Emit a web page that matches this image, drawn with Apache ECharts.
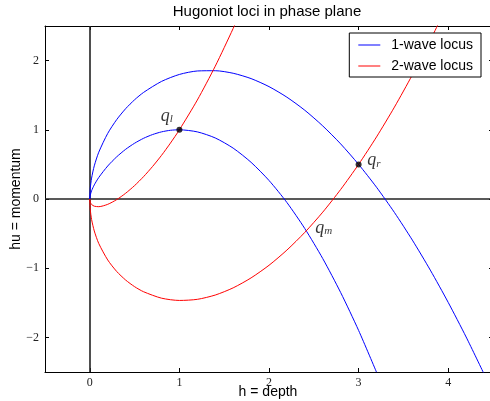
<!DOCTYPE html>
<html>
<head>
<meta charset="utf-8">
<script src="https://cdn.jsdelivr.net/npm/echarts@6/dist/echarts.min.js"></script>
<style>
  html, body { margin: 0; padding: 0; background: #fff; }
  #chart { width: 490px; height: 401px; }
</style>
</head>
<body>
<div id="chart"></div>
<script>
// depth samples (h) and momentum (hu) read along each locus
const hLeft = [0, 0.005, 0.02, 0.05, 0.1, 0.2, 0.3, 0.4, 0.5, 0.6, 0.7, 0.8, 0.9, 1.0, 1.2, 1.4, 1.6, 1.8, 2.0, 2.2, 2.4, 2.6, 2.8, 3.0, 3.2];
const wave1Left = [0, 0.055, 0.119, 0.204, 0.311, 0.477, 0.609, 0.718, 0.806, 0.877, 0.931, 0.970, 0.993, 1.0, 0.970, 0.882, 0.735, 0.530, 0.268, -0.051, -0.428, -0.861, -1.352, -1.899, -2.503];
const wave2Left = [0, -0.045, -0.079, -0.104, -0.111, -0.077, -0.009, 0.083, 0.194, 0.323, 0.469, 0.630, 0.808, 1.0, 1.430, 1.919, 2.465, 3.05];

const hRight = [0, 0.005, 0.02, 0.05, 0.1, 0.2, 0.3, 0.4, 0.5, 0.6, 0.8, 1.0, 1.2, 1.4, 1.6, 1.8, 2.0, 2.2, 2.4, 2.6, 2.8, 3.0, 3.2, 3.4, 3.6, 3.8, 4.0, 4.2, 4.4];
const wave1Right = [0, 0.151, 0.302, 0.479, 0.676, 0.948, 1.147, 1.305, 1.434, 1.540, 1.699, 1.800, 1.850, 1.854, 1.817, 1.740, 1.624, 1.471, 1.282, 1.056, 0.796, 0.5, 0.170, -0.195, -0.594, -1.027, -1.494, -1.994, -2.528];
const wave2Right = [0, -0.149, -0.296, -0.462, -0.643, -0.881, -1.047, -1.171, -1.267, -1.340, -1.433, -1.466, -1.450, -1.388, -1.284, -1.140, -0.958, -0.738, -0.482, -0.190, 0.138, 0.5, 0.897, 1.328, 1.794, 2.294, 2.827];

const states = [[1, 1], [3, 0.5]];           // q_l, q_r
const stateNames = ['l', 'm', 'r'];
const stateLabelAt = [[0.86, 1.2], [2.61, -0.42], [3.17, 0.56]];

const xTicks = [0, 1, 2, 3, 4];
const yTicks = [-2, -1, 0, 1, 2];

const BLUE = '#0000ff';
const RED = '#ff0000';

function pairs(xs, ys) {
  const out = [];
  for (let i = 0; i < Math.min(xs.length, ys.length); i++) out.push([xs[i], ys[i]]);
  return out;
}

function curve(name, color, data) {
  return {
    type: 'line', name: name, data: data,
    smooth: 0.25,
    symbol: 'none', showSymbol: false,
    lineStyle: { color: color, width: 1 },
    itemStyle: { color: color },
    clip: true, z: 3, silent: true
  };
}

const tickFont = { fontFamily: 'Liberation Serif', fontSize: 12, color: '#222' };
const minus = v => String(v).replace('-', '\u2212');
const sansText = (size) => size + 'px "Liberation Sans"';

const chart = echarts.init(document.getElementById('chart'), null, { renderer: 'canvas' });

chart.setOption({
  animation: false,
  backgroundColor: '#fff',
  graphic: [{
    type: 'text', x: 267, y: 4,
    style: { text: 'Hugoniot loci in phase plane', font: sansText(15), fill: '#000', textAlign: 'center', textVerticalAlign: 'top' }
  }, {
    type: 'text', x: 268, y: 392,
    style: { text: 'h = depth', font: sansText(14), fill: '#000', textAlign: 'center', textVerticalAlign: 'middle' }
  }, {
    type: 'text', x: 16, y: 199, rotation: Math.PI / 2,
    style: { text: 'hu = momentum', font: sansText(14), fill: '#000', textAlign: 'center', textVerticalAlign: 'middle' }
  }],
  legend: {
    orient: 'vertical', right: 9, top: 33,
    data: ['1-wave locus', '2-wave locus'],
    icon: 'rect',
    itemWidth: 22, itemHeight: 1, itemGap: 5,
    padding: [4, 8, 3, 9],
    borderColor: '#000', borderWidth: 1, borderRadius: 0,
    backgroundColor: '#fff',
    textStyle: { fontFamily: 'Liberation Sans', fontSize: 14, color: '#000', padding: [0, 0, 0, 6], lineHeight: 16 }
  },
  grid: { left: 45, top: 26, width: 448, height: 346, containLabel: false, outerBoundsMode: 'none' },
  xAxis: [{
    type: 'value', min: -0.5, max: 4.5,
    axisLine: { onZero: false, lineStyle: { color: '#000', width: 1 } },
    axisTick: { inside: true, length: 4, customValues: xTicks, lineStyle: { color: '#000' } },
    axisLabel: Object.assign({ customValues: xTicks, margin: 5, formatter: minus }, tickFont),
    splitLine: { show: false }
  }, {
    type: 'value', min: -0.5, max: 4.5, position: 'top',
    axisLine: { onZero: false, lineStyle: { color: '#000', width: 1 } },
    axisTick: { inside: true, length: 4, customValues: xTicks, lineStyle: { color: '#000' } },
    axisLabel: { show: false },
    splitLine: { show: false }
  }],
  yAxis: [{
    type: 'value', min: -2.5, max: 2.5,
    axisLine: { onZero: false, lineStyle: { color: '#000', width: 1 } },
    axisTick: { inside: true, length: 4, customValues: yTicks, lineStyle: { color: '#000' } },
    axisLabel: Object.assign({ customValues: yTicks, margin: 6, formatter: minus }, tickFont),
    splitLine: { show: false }
  }, {
    type: 'value', min: -2.5, max: 2.5, position: 'right',
    axisLine: { onZero: false, lineStyle: { color: '#000', width: 1 } },
    axisTick: { inside: true, length: 4, customValues: yTicks, lineStyle: { color: '#000' } },
    axisLabel: { show: false },
    splitLine: { show: false }
  }],
  series: [
    Object.assign(curve('1-wave locus', BLUE, pairs(hLeft, wave1Left)), {
      markLine: {
        silent: true, symbol: 'none', label: { show: false },
        lineStyle: { color: '#222', width: 1.6, type: 'solid' },
        data: [{ xAxis: 0 }, { yAxis: 0 }],
        z: 2
      }
    }),
    curve('1-wave locus', BLUE, pairs(hRight, wave1Right)),
    curve('2-wave locus', RED, pairs(hLeft, wave2Left)),
    curve('2-wave locus', RED, pairs(hRight, wave2Right)),
    {
      type: 'scatter', data: states, symbolSize: 6,
      itemStyle: { color: '#000' }, z: 5, silent: true
    },
    {
      type: 'scatter', symbolSize: 0, z: 6, silent: true,
      data: stateLabelAt.map((p, i) => ({ value: p, name: stateNames[i] })),
      label: {
        show: true, position: 'inside',
        formatter: p => '{q|q}{s|' + p.name + '}',
        rich: {
          q: { fontFamily: 'Liberation Serif', fontStyle: 'italic', fontSize: 18, lineHeight: 18, verticalAlign: 'bottom', color: '#000' },
          s: { fontFamily: 'Liberation Serif', fontStyle: 'italic', fontSize: 11, lineHeight: 11, verticalAlign: 'bottom', color: '#000' }
        }
      }
    }
  ]
});
</script>
</body>
</html>
